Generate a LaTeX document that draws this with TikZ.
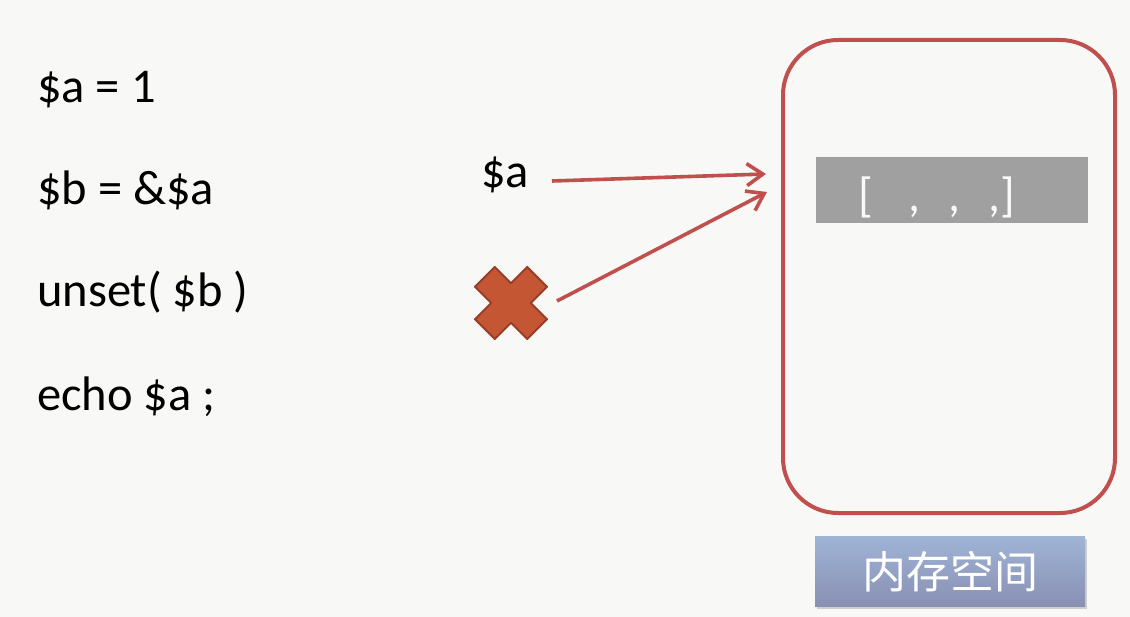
\documentclass[tikz,border=0pt]{standalone}
\usepackage{fontspec}
\setmainfont{Carlito}
\newfontfamily\cjk{Noto Sans CJK SC}
\usetikzlibrary{arrows.meta,shadows}
\definecolor{bg}{RGB}{248,248,246}
\definecolor{boxred}{RGB}{192,80,77}
\definecolor{xfill}{RGB}{196,86,52}
\definecolor{xline}{RGB}{150,62,42}
\definecolor{bargray}{RGB}{160,160,160}
\definecolor{lbltop}{RGB}{160,180,214}
\definecolor{lblbot}{RGB}{136,144,178}
\tikzset{
  code/.style={anchor=base west, inner sep=0pt, font=\fontsize{48.5}{52}\selectfont, text=black},
  refarrow/.style={draw=boxred, line width=3.6pt, -{Straight Barb[length=16pt,width=22pt,line width=3.6pt]}},
}
\begin{document}
\begin{tikzpicture}[x=1pt,y=-1pt]
\useasboundingbox (0,0) rectangle (1130,617);
\fill[bg] (0,0) rectangle (1130,617);
% code lines
\node[code] (l1) at (37,103) {\$a = 1};
\node[code] (l2) at (37,205) {\$b = \&\$a};
\node[code] (l3) at (37,307) {unset( \$b )};
\node[code] (l4) at (37,410) {echo \$a ;};
% memory box
\draw[boxred, line width=4pt, fill=bg, rounded corners=55pt] (783,40) rectangle (1115,513);
\node[fill=bargray, minimum width=272pt, minimum height=66pt, inner sep=0pt, anchor=north west] (bar) at (816,157) {};
\node[anchor=base west, inner sep=0pt, text=white!95!gray, font=\fontsize{48}{52}\selectfont] (arr) at (858,212) {[\hspace{36pt},\hspace{28pt},\hspace{28pt},]};
% label
\node[minimum width=270pt, minimum height=70pt, inner sep=0pt, anchor=north west,
  top color=lbltop, bottom color=lblbot, drop shadow={shadow xshift=2pt,shadow yshift=-3pt,opacity=0.35}] (lbl) at (815,536) {};
\node[text=white, font=\cjk\fontsize{44}{48}\selectfont, inner sep=0pt] (lbltext) at (lbl.center) {内存空间};
% $a label
\node[code] (alabel) at (481,188) {\$a};
% X mark
\begin{scope}[shift={(511,303)}, rotate=45]
\draw[xline, line width=2pt, fill=xfill, line join=round]
 (-14,-37) -- (14,-37) -- (14,-14) -- (37,-14) -- (37,14) -- (14,14) -- (14,37) -- (-14,37) -- (-14,14) -- (-37,14) -- (-37,-14) -- (-14,-14) -- cycle;
\end{scope}
\coordinate (xr) at (557,301);
\coordinate (as) at (552,181);
\coordinate (t1) at (766,174);
\coordinate (t2) at (767,192);
\draw[refarrow] (as) -- (t1);
\draw[refarrow] (xr) -- (t2);
\end{tikzpicture}
\end{document}
